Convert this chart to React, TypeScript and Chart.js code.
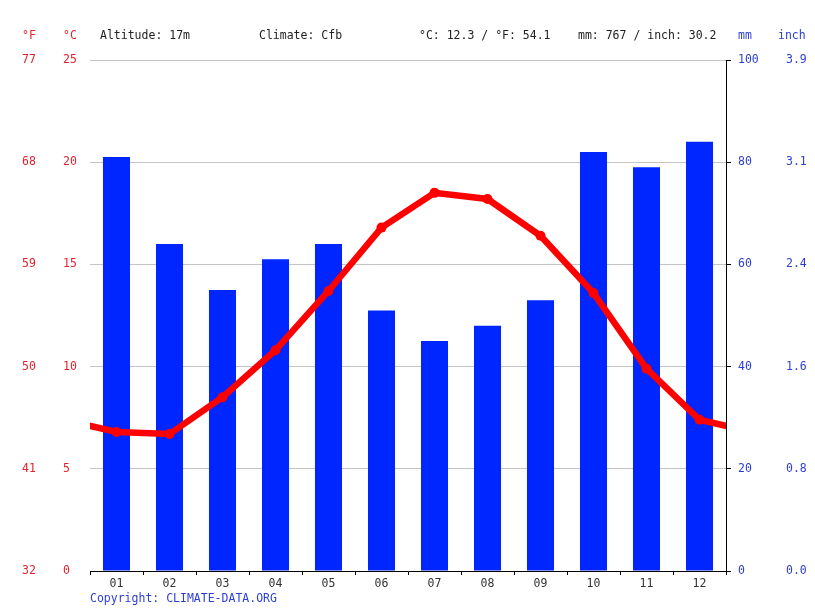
import React, { useEffect, useRef } from "react";
import { Chart, registerables } from "chart.js";

Chart.register(...registerables);

const months = ["01", "02", "03", "04", "05", "06", "07", "08", "09", "10", "11", "12"];
const precipitationMm = [81, 64, 55, 61, 64, 51, 45, 48, 53, 82, 79, 84];
const temperatureC = [6.8, 6.7, 8.5, 10.8, 13.7, 16.8, 18.5, 18.2, 16.4, 13.6, 9.9, 7.4];
const fahrenheitTicks = ["32", "41", "50", "59", "68", "77"];
const inchTicks = ["0.0", "0.8", "1.6", "2.4", "3.1", "3.9"];
const headerLabels = ["Altitude: 17m", "Climate: Cfb", "°C: 12.3 / °F: 54.1", "mm: 767 / inch: 30.2"];
const copyrightText = "Copyright: CLIMATE-DATA.ORG";

const FONT = "'DejaVu Sans Mono', monospace";
const RED = "#e3232c";
const BLUE = "#2b3fd8";
const DARK = "#222222";

const textPlugin = {
  id: "climateTexts",
  afterDraw(chart: any) {
    const ctx = chart.ctx;
    ctx.save();
    ctx.font = `11.5px ${FONT}`;
    ctx.textBaseline = "middle";
    ctx.textAlign = "left";
    ctx.fillStyle = RED;
    ctx.fillText("°F", 22, 36);
    ctx.fillText("°C", 63, 36);
    ctx.fillStyle = BLUE;
    ctx.fillText("mm", 738, 36);
    ctx.fillText("inch", 778, 36);
    ctx.fillStyle = DARK;
    const xs = [100, 259, 419, 578];
    headerLabels.forEach((t, i) => ctx.fillText(t, xs[i], 36));
    ctx.fillStyle = BLUE;
    ctx.fillText(copyrightText, 90, 599);
    ctx.restore();
  },
};

export default function App() {
  const ref = useRef<HTMLCanvasElement | null>(null);

  useEffect(() => {
    if (!ref.current) return;
    const font = { family: FONT, size: 11.5 };
    const lineData = [
      { x: 0, y: temperatureC[11] },
      ...temperatureC.map((y, i) => ({ x: i + 1, y })),
      { x: 13, y: temperatureC[0] },
    ];
    const barData = precipitationMm.map((y, i) => ({ x: i + 1, y }));
    const chart = new Chart(ref.current, {
      type: "bar",
      data: {
        labels: months,
        datasets: [
          {
            type: "line",
            label: "°C",
            data: lineData as any,
            xAxisID: "xl",
            yAxisID: "yC",
            borderColor: "#ff0000",
            backgroundColor: "#ff0000",
            borderWidth: 6.5,
            pointRadius: lineData.map((_, i) => (i === 0 || i === lineData.length - 1 ? 0 : 5)),
            pointBackgroundColor: "#ff0000",
            pointBorderWidth: 0,
            tension: 0,
            clip: 0,
            order: 0,
          } as any,
          {
            type: "bar",
            label: "mm",
            data: barData as any,
            xAxisID: "xl",
            yAxisID: "yMm",
            backgroundColor: "#0026ff",
            categoryPercentage: 1,
            barPercentage: 0.51,
            grouped: false,
            order: 1,
          } as any,
        ],
      },
      options: {
        animation: false,
        responsive: true,
        maintainAspectRatio: false,
        layout: { padding: { left: 22, right: 0, top: 60, bottom: 0 } },
        plugins: { legend: { display: false }, tooltip: { enabled: false } },
        scales: {
          x: {
            type: "category",
            position: "bottom",
            offset: true,
            grid: { offset: true, drawOnChartArea: false, drawTicks: true, tickLength: 4, color: "#000" },
            border: { display: true, color: "#000" },
            ticks: { color: "#333", font, padding: 2, maxRotation: 0 },
            afterFit: (s: any) => { s.height = 40; },
          },
          xl: {
            type: "linear",
            position: "top",
            display: false,
            offset: false,
            bounds: "data",
            grid: { offset: false, drawOnChartArea: false },
            min: 0.5,
            max: 12.5,
            ticks: { stepSize: 1 },
          },
          yF: {
            position: "left",
            weight: 2,
            min: 0,
            max: 25,
            ticks: { stepSize: 5, color: RED, font, crossAlign: "far", callback: (_v: any, i: number) => fahrenheitTicks[i] },
            grid: { display: false },
            border: { display: false },
            afterFit: (s: any) => { s.width = 41; },
          },
          yC: {
            position: "left",
            weight: 1,
            min: 0,
            max: 25,
            ticks: { stepSize: 5, color: RED, font, crossAlign: "far" },
            grid: { color: "#c4c4c4", drawTicks: false },
            border: { display: false },
            afterFit: (s: any) => { s.width = 27; },
          },
          yMm: {
            position: "right",
            weight: 1,
            min: 0,
            max: 100,
            ticks: { stepSize: 20, color: BLUE, font, padding: 7 },
            grid: { drawOnChartArea: false, color: "#000", tickLength: 5 },
            border: { display: true, color: "#000" },
            afterFit: (s: any) => { s.width = 52; },
          },
          yIn: {
            position: "right",
            weight: 2,
            min: 0,
            max: 100,
            ticks: { stepSize: 20, color: BLUE, font, padding: 0, callback: (_v: any, i: number) => inchTicks[i] },
            grid: { display: false },
            border: { display: false },
            afterFit: (s: any) => { s.width = 37; },
          },
        } as any,
      },
      plugins: [textPlugin],
    });
    return () => chart.destroy();
  }, []);

  return (
    <div style={{ position: "absolute", left: 0, top: 0, width: 815, height: 611, background: "#fff" }}>
      <canvas ref={ref} />
    </div>
  );
}
